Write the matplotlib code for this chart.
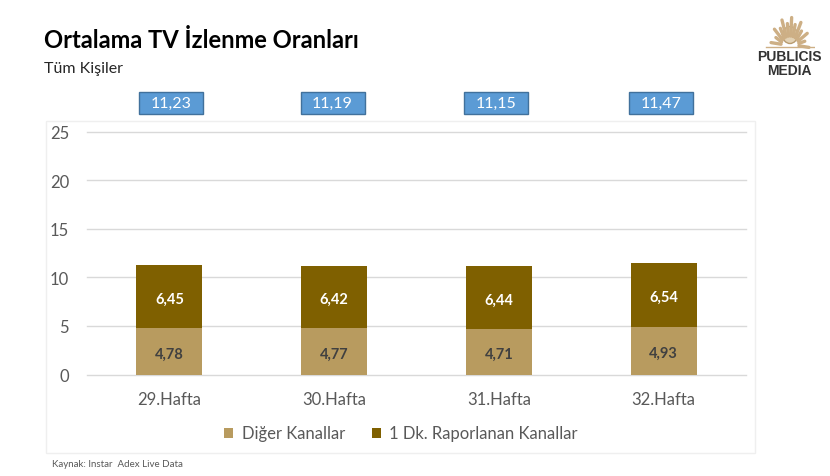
import numpy as np
import matplotlib
matplotlib.use('Agg')
import matplotlib.pyplot as plt
from matplotlib.patches import Rectangle, Ellipse

weeks = ['29.Hafta', '30.Hafta', '31.Hafta', '32.Hafta']
other_channels = [4.78, 4.77, 4.71, 4.93]
reported_channels = [6.45, 6.42, 6.44, 6.54]
totals = ['11,23', '11,19', '11,15', '11,47']
y_ticks = [0, 5, 10, 15, 20, 25]

W, H = 830, 477
plt.rcParams['font.family'] = ['Lato', 'DejaVu Sans']

fig = plt.figure(figsize=(W / 100, H / 100), dpi=100)

# helper for pixel positions, origin top left like the reference
def fx(x):
    return x / W
def fy(y):
    return 1 - y / H

# outer chart frame, kept behind the axes
fig.add_artist(Rectangle((fx(45.5), fy(453.5)), 709 / W, 332 / H, transform=fig.transFigure,
                         facecolor='white', edgecolor='#efefef', linewidth=1, zorder=-1))

ax = fig.add_axes([fx(87), fy(375.5), 659 / W, 243 / H])
x = np.arange(len(weeks))
ax.bar(x, other_channels, width=0.4, color='#B89B5F', label='Diğer Kanallar', zorder=3)
ax.bar(x, reported_channels, width=0.4, bottom=other_channels, color='#7F6000',
       label='1 Dk. Raporlanan Kanallar', zorder=3)

# value labels inside the bars, nudged down a little
for i in x:
    ax.annotate(f'{other_channels[i]:.2f}'.replace('.', ','), (i, other_channels[i] / 2),
                xytext=(0, -1.5), textcoords='offset points',
                ha='center', va='center', fontsize=10.5, fontweight='bold', color='#404040', zorder=4)
    ax.annotate(f'{reported_channels[i]:.2f}'.replace('.', ','), (i, other_channels[i] + reported_channels[i] / 2),
                xytext=(0, -1.5), textcoords='offset points',
                ha='center', va='center', fontsize=10.5, fontweight='bold', color='white', zorder=4)

ax.set_xlim(-0.5, 3.5)
ax.set_ylim(0, 25)
ax.set_yticks(y_ticks)
ax.set_xticks(x)
ax.set_xticklabels(weeks)
ax.tick_params(axis='both', length=0, labelsize=12, labelcolor='#595959')
ax.tick_params(axis='x', pad=12)
ax.tick_params(axis='y', pad=13)
ax.grid(axis='y', color='#d9d9d9', linewidth=1, zorder=0)
for line in ax.get_ygridlines():
    line.set_clip_on(False)
ax.set_axisbelow(True)
for s in ax.spines.values():
    s.set_visible(False)
ax.patch.set_alpha(0)

ax.legend(loc='center', bbox_to_anchor=((401 - 87) / 659, (375 - 434) / 243), ncol=2, frameon=False,
          fontsize=12, labelcolor='#595959', handlelength=0.55, handleheight=0.55,
          handletextpad=0.5, columnspacing=1.6)

# total boxes above the bars, they sit a bit off the bar centres in the reference
box_centres = [171, 332.5, 496, 661]
for cx, label in zip(box_centres, totals):
    fig.add_artist(Rectangle((fx(cx - 32), fy(115)), 64 / W, 22 / H, transform=fig.transFigure,
                             facecolor='#5B9BD5', edgecolor='#41719C', linewidth=1))
    fig.text(fx(cx), fy(104), label, ha='center', va='center', fontsize=11.5, color='white')

fig.text(fx(44), fy(41), 'Ortalama TV İzlenme Oranları', fontsize=17.1, fontweight='bold',
         color='black', ha='left', va='center')
fig.text(fx(44), fy(69), 'Tüm Kişiler', fontsize=11.5, color='#262626', ha='left', va='center')
fig.text(fx(52), fy(465), 'Kaynak: Instar  Adex Live Data', fontsize=7, color='#595959',
         ha='left', va='center')

# logo: sun made of short rays above the wordmark
logo = fig.add_axes([fx(765), fy(50), 50 / W, 34 / H])
logo.set_xlim(765, 815)
logo.set_ylim(50, 16)
logo.axis('off')
for ang in np.radians(np.arange(-5, 190, 15)):
    r = 19 if int(np.degrees(ang) + 5) % 30 == 0 else 15
    logo.plot([790 + 9 * np.cos(ang), 790 + r * np.cos(ang)],
              [46 - 9 * np.sin(ang), 46 - r * np.sin(ang) * 1.45],
              color='#CDAF85', linewidth=2.4, solid_capstyle='round')
logo.add_patch(Ellipse((790, 36), 15, 17, facecolor='#E3D2B5', edgecolor='#B89B6F', linewidth=1))
logo.plot([766, 814], [47.5, 47.5], color='#CDAF85', linewidth=1)
fig.text(fx(789), fy(57), 'PUBLICIS', fontsize=10, fontweight='bold', color='#333333',
         family=['Liberation Sans'], ha='center', va='center')
fig.text(fx(789), fy(71), 'MEDIA', fontsize=10, fontweight='bold', color='#333333',
         family=['Liberation Sans'], ha='center', va='center')

fig.savefig('out.png', dpi=100)
